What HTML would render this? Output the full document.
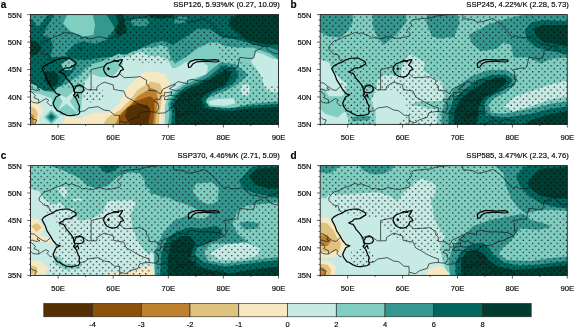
<!DOCTYPE html>
<html><head><meta charset="utf-8"><title>SSP precipitation sensitivity maps</title>
<style>
html,body{margin:0;padding:0;background:#fff}
body{width:575px;height:328px;overflow:hidden;font-family:"Liberation Sans",sans-serif}
svg{display:block}
text{font-family:"Liberation Sans",sans-serif;fill:#060606;stroke:#060606;stroke-width:.16px}
.lab{font-size:7.7px}
.ttl{font-size:7.65px}
.cbl{font-size:7.5px}
.pl{font-size:10px;font-weight:bold;fill:#000}
.brd{fill:none;stroke:#141a19;stroke-width:0.7;stroke-linejoin:round}
.lake{fill:none;stroke:#050505;stroke-width:1.25;stroke-linejoin:round;stroke-linecap:round}
.tk{stroke:#222;stroke-width:0.7}
.fr{fill:none;stroke:#222;stroke-width:0.9}
</style></head><body>
<svg width="575" height="328" viewBox="0 0 575 328">
<defs>

<clipPath id="cpa"><rect x="30.5" y="14.6" width="248" height="109.8"/></clipPath>
<clipPath id="cpb"><rect x="320.2" y="14.6" width="247.1" height="109.8"/></clipPath>
<clipPath id="cpc"><rect x="30.5" y="165.6" width="248" height="109.8"/></clipPath>
<clipPath id="cpd"><rect x="320.2" y="165.6" width="247.1" height="109.8"/></clipPath>
<pattern id="sta" x="34.35" y="16.46" width="6.15" height="6.08" patternUnits="userSpaceOnUse"><circle cx="0.7" cy="0.7" r="0.7" fill="#000"/><circle cx="3.775" cy="3.74" r="0.7" fill="#000"/></pattern>
<mask id="mka" maskUnits="userSpaceOnUse" x="0" y="0" width="575" height="328"><rect x="30.5" y="14.6" width="248" height="109.8" fill="#fff"/><polygon fill="#000" points="61.2,13.5 60,21.2 70,32.5 82.5,36.2 95,40 106.2,37.5 115,28.8 120,20 125,13.5"/><polygon fill="#000" points="30,126 30,88 45,88 55,86 63,87.5 73,87.5 82.5,87.5 88.8,77.5 92.5,65 95,61.2 107.5,62.5 118.8,58.2 125,59.5 132.5,61 145,63.8 150,62.5 162.5,63.8 170,61.2 185,58.8 192.5,53.8 200,47.5 210,45 217.5,45 220,55 221,64 215.5,71 208.8,77 196,83 185,87.5 176,95 170.5,103.8 172,112.5 171,126"/><polygon fill="#000" points="239,50 236,49 250,47.5 257.5,43.8 267.5,45 280,48.8 280,85 265,85 262,75 255,65 240,62"/><polygon fill="#000" points="203.8,98.8 235,97.5 236.2,107 206.2,108"/><polygon fill="#fff" points="80,88.8 95,87.5 105,91.2 102.5,100 90,102.5 81.2,98.8"/></mask>
<pattern id="stb" x="322.95" y="16.46" width="6.15" height="6.08" patternUnits="userSpaceOnUse"><circle cx="0.7" cy="0.7" r="0.7" fill="#000"/><circle cx="3.775" cy="3.74" r="0.7" fill="#000"/></pattern>
<mask id="mkb" maskUnits="userSpaceOnUse" x="0" y="0" width="575" height="328"><rect x="320.2" y="14.6" width="247.1" height="109.8" fill="#fff"/><polygon fill="#000" points="319,58.8 328.8,62.5 333.8,71.2 340,80 342.5,90 342,100 343.8,108.8 347.5,115 348.8,125 319,125"/><polygon fill="#000" points="374.5,93.8 380,90 392.5,90 403.8,96.2 406.2,103.8 408,115.5 396.2,125 375.5,125 375.5,112.5 372,101.2"/></mask>
<pattern id="stc" x="34.35" y="169.77" width="6.15" height="6.08" patternUnits="userSpaceOnUse"><circle cx="0.7" cy="0.7" r="0.7" fill="#000"/><circle cx="3.775" cy="3.74" r="0.7" fill="#000"/></pattern>
<mask id="mkc" maskUnits="userSpaceOnUse" x="0" y="0" width="575" height="328"><rect x="30.5" y="165.6" width="248" height="109.8" fill="#fff"/><polygon fill="#000" points="29,188.5 38.8,191 43.8,198.5 45,211 55,218.5 58,226 60,236 55,246 52.5,254.8 50,263.5 48.8,276 29,276"/><polygon fill="#000" points="150,251 156.2,252.2 157.5,276 150,276"/></mask>
<pattern id="std" x="322.80" y="169.80" width="6.15" height="6.08" patternUnits="userSpaceOnUse"><circle cx="0.7" cy="0.7" r="0.7" fill="#000"/><circle cx="3.775" cy="3.74" r="0.7" fill="#000"/></pattern>
<mask id="mkd" maskUnits="userSpaceOnUse" x="0" y="0" width="575" height="328"><rect x="320.2" y="165.6" width="247.1" height="109.8" fill="#fff"/><polygon fill="#000" points="319,197.2 325,198.5 330,194.8 335,198.5 332.5,204.8 335,211 342.5,214.8 365,216.5 381.2,218 381.2,226 392.5,236 410,243.5 430,254.8 442.5,262.2 455,266 455,276 319,276"/><polygon fill="#000" points="431,251 443.5,254.8 442.2,276 431,276"/><polygon fill="#fff" points="351.2,251 360,248.5 371.2,251 375.5,259.8 373.8,266.5 360,267.2 351.2,262.2"/></mask>
</defs>
<g clip-path="url(#cpa)">
<rect x="30.5" y="14.6" width="248" height="109.8" fill="#35978f"/>
<polygon fill="#01665e" points="30,14 54.5,14 47,27 43,35 50,38 53,45 52,52 50,57 57,57 66,56 72,60 76,66 73,72 67.5,77 64.4,81 61.2,86 57.5,89 51.2,91 43.8,89.8 37.5,86 30,82"/>
<polygon fill="#35978f" points="30,14 48.6,14 38,27.7 32.5,20 30,20"/>
<polygon fill="#01665e" points="106.2,14.5 110,20 115,28.8 106.2,40 95,43.8 82.5,41.2 73.8,45 65,53.8 70,58.8 85,60 102.5,57.5 120,56.2 137.5,50 150,43.8 165,40 165,14.5"/>
<polygon fill="#01665e" points="150,14.5 150,37 162.5,40 172.5,45 185,37.5 197.5,28.8 208.8,28.8 222.5,37.5 232.5,38.8 247.5,42.5 260,46.2 270,47.5 280,51.2 280,14.5"/>
<polygon fill="#35978f" points="173.8,19 180,16.2 187.5,17.5 185.5,22.5 175,24"/>
<polygon fill="#35978f" points="130.5,21 136,17.9 147,18.7 149.3,22.6 145.4,26.5 133.6,25.7"/>
<polygon fill="#003c30" points="30,40 37,42 41.5,48 37,54.5 30,56"/>
<polygon fill="#003c30" points="115,14 123,14 127.3,33 117,35.7 114.3,29.7 118.6,22.7"/>
<polygon fill="#003c30" points="230,18 237.5,14.5 280,14.5 280,44.5 260,44 247.5,40 235,31.2 228.8,25"/>
<polygon fill="#003c30" points="150,14.5 172.5,14.5 173.8,17.5 160,19 150,17.5"/>
<polygon fill="#003c30" points="78,47.5 82.5,47.5 80.8,50.5"/>
<polygon fill="#003c30" points="45,72.2 53.8,71 58.8,76 58,83.5 55,86.6 48.8,86 44.4,79.8"/>
<polygon fill="#35978f" points="59.5,14 57.7,22.7 66.4,33.1 82.1,40.1 96,40.1 106.4,33.1 108.2,22.7 104.7,14"/>
<polygon fill="#80cdc1" points="67.5,14 63,23.6 70.8,31.4 83.8,36.6 93.4,34.9 95.1,24.4 92.5,14"/>
<polygon fill="#80cdc1" points="61.2,63.8 70,58.8 74.5,63.8 71.2,70 63.8,70"/>
<polygon fill="#80cdc1" points="30,84 35,85 45,91 54,92.5 64,87.5 69,82.5 80,75 86,68 91,66 102.5,61 118.8,53.8 125,55 133.8,51.2 145,47.5 155,47.5 160,45 167.5,47.5 171,58.8 175,63.8 185,57.5 198.8,47.5 210,42.5 217.5,42.5 225,46.2 237.5,47.5 252.5,47.5 260,50 270,53.8 279,60 279,125 30,125"/>
<polygon fill="#c7eae5" points="30,92 40,94 50,98 56,97 64,93 76,88 88.5,78 92.5,67 100,65 110,62 120,58 130,56 140,52 150,56 160,56 168,60 172,68 176,68 186,62 200,60 208,66 207,74 195,78 185,82 170,92 165,105 165,125 30,125"/>
<polygon fill="#80cdc1" points="91,64 100,62 112,62 121,58 123,64 117,72 112,77 100,77 92,74"/>
<polygon fill="#80cdc1" points="57.5,87.5 70,82.5 80,77.5 85,82.5 82.5,92.5 81.2,108.8 73.8,116.2 60,115 52.5,106.2 51.2,96.2"/>
<polygon fill="#c7eae5" points="57.5,93.8 66.2,97.5 78.8,87.5 70,101.2 77.5,112.5 66.2,103.8 57.5,111.2 62.5,101.2"/>
<polygon fill="#80cdc1" points="43.8,117 51.2,109.5 59.5,117 51.2,124.5"/>
<polygon fill="#35978f" points="46.2,117 51.2,112 56.8,117 51.2,122.5"/>
<polygon fill="#01665e" points="48.5,117 51.2,114.2 54.2,117 51.2,120"/>
<polygon fill="#f6e8c3" points="30.5,98.8 37.5,102.5 43.8,110 40,117.5 38.8,125 30.5,125"/>
<polygon fill="#dfc27d" points="30.5,106.2 35.5,108.8 38,113.8 35.5,125 30.5,125"/>
<polygon fill="#bf812d" points="30.5,113.8 33.8,115.5 33.8,125 30.5,125"/>
<polygon fill="#f6e8c3" points="60,125 67.5,115.5 80,118.8 92.5,112.5 95,125"/>
<polygon fill="#f6e8c3" points="150.2,72.5 145,71.5 137.5,77.5 127.5,87.5 118.8,103.8 107.5,112.5 93.8,112.5 87.5,125 150.2,125"/>
<polygon fill="#f6e8c3" points="150,71.2 165,73.8 169.5,82.5 168,92.5 165,103.8 163,115 162.5,125 150,125"/>
<polygon fill="#dfc27d" points="150.2,82 137.5,90 130,100 120,110 107.5,117.5 102.5,125 150.2,125"/>
<polygon fill="#dfc27d" points="150,81.2 160,83.8 163,92.5 161.2,103.8 159.5,115 158.8,125 150,125"/>
<polygon fill="#bf812d" points="150.2,88.8 137.5,96.2 130,105 120,113.8 115,125 150.2,125"/>
<polygon fill="#bf812d" points="150,87.5 156.2,90 158,100 156.2,112.5 155,125 150,125"/>
<polygon fill="#8c510a" points="150.2,96.2 135,101.2 125,110 120,116.2 120,125 150.2,125"/>
<polygon fill="#8c510a" points="150,96.2 153.8,98.8 154.5,110 152.5,125 150,125"/>
<polygon fill="#543005" points="127.5,107.5 137.5,103.8 147.5,105 150.5,112.5 148,125 130,125 125,116.2"/>
<polygon fill="#80cdc1" points="235,65 250,60 260,55 270,70 280,72.5 280,98.8 250,101.2 236.2,97.5 232.5,85 247.5,75"/>
<polygon fill="#c7eae5" points="240.5,87.5 243.8,83.8 248.8,85 250.5,90 248,95.5 242,95"/>
<polygon fill="#c7eae5" points="251,62 256,52.5 262.5,53.8 272.5,58.8 279,59.4 279,93 268,91 264,86 262,78 258,71"/>
<polygon fill="#35978f" points="220.5,62.5 235.5,64 248.5,75 236.2,85 227.5,90 215,95 208.8,97.5 205,101.2 210,106.2 232.5,108 250,103.8 280,101.2 280,125 168,125 169.5,112.5 168,103.8 173.8,93.8 182.5,86.2 192.5,81.2 205,75 212.5,68.8"/>
<polygon fill="#01665e" points="222,65.5 234.5,67.5 238.8,75 233.8,83 225,88 212.5,93 206.2,99.5 208.8,106.2 225,108.8 250,106 280,103.8 280,125 171.2,125 172,112.5 170.5,103.8 176.2,95 185,87.5 196.2,83 208.8,77 215.5,71.2"/>
<polygon fill="#003c30" points="225,70 231.5,71.5 230,78 222.5,85.5 210,91.5 201.2,98.8 203.8,107.5 215,110 232.5,111 250,108.5 280,106.8 280,125 175,125 175,112.5 173.8,103.8 180,95 187.5,89 197.5,85.2 210,79.5 217.5,74.5"/>
<polygon fill="#80cdc1" points="205.5,101.2 213.8,97.5 235,96.5 238,103.8 226.2,107.5 209.5,106.5"/>
<polygon fill="#c7eae5" points="208,101.8 215.5,99.2 233.8,98.2 235,103.5 225,105.8 210.8,105"/>
<rect x="30.5" y="14.6" width="248" height="109.8" fill="url(#sta)" mask="url(#mka)"/>
<polyline class="brd" points="53.6,61.8 50.3,60.2 48.1,54.7 43.7,54.1 41.5,51.4 39.3,49.7 39.1,47 42.1,43.1 44.8,40.7 48.1,39.9 52,38.2 54.5,36.6 58.6,35.5 62.5,33.8 65.8,32.2 69.1,33.8 71.8,32.7 75.4,34.4 79,35.5 82.3,38.2 85.9,37.1 89.5,38.8 93.9,38.2 98.3,36.6 101.6,37.1 106,38.2 110.4,38.2 114.8,37.1 119.2,36.6 120.9,33.8 117.3,30.2 119.8,27.8 122.5,25 120.9,22.3 123.6,19.8 128.6,19 135.2,18.4 141.8,17.9 146.2,16.2 158.4,14.6 162.8,12.4"/>
<polyline class="brd" points="173.2,13 173.8,19 179.3,19 184.8,20.1 188.1,22.3 193.1,21.7 198.6,20.1 204.1,18.4 206.9,20.6 212.4,24.5 217.9,31.1 223.9,37.7 226.7,35.5 230.6,37.7 237.2,37.7 242.1,36.6 246.5,40.4 252,44.2 258.1,44.8 263.6,46.4"/>
<polyline class="brd" points="263.6,46.4 266.4,46.4 270.2,44.8 275.7,42.6 281.3,40.4"/>
<polyline class="brd" points="266.4,46.7 267.5,49.7 273,53 278.5,54.1 281.8,57.4"/>
<polyline class="brd" points="263.6,46.4 260.9,48.6 255.4,50.8 253.7,58 249.8,58.5 239.9,57.4 237.7,66.8 236.1,68.4 233.3,67.9 223.4,70 225.6,72.2 225.6,79.9 227.8,79.4 224.5,84.9"/>
<polyline class="brd" points="224.5,84.9 217.9,87.6 214.6,89.3 206.9,91.5 201.3,94.8 194.7,94.2 189.2,98 188.4,100 189.8,105.2 195.3,105.7 195.3,112"/>
<polyline class="brd" points="195.3,112 200.2,115.1 205.8,120.6 211.3,121.7 214,125.5"/>
<polyline class="brd" points="211.3,121.7 217.9,118.9 225,121.7 224.5,125.5"/>
<polyline class="brd" points="71.6,87.3 80.1,84.3 87.8,89.8 91.1,89.8 91.1,69.5 105.5,66.2"/>
<polyline class="brd" points="119.2,73.3 124.2,77.7 135.2,77.2 140.2,76.6 146.8,80.5 146.2,83.8 149,86 149,90.4 156.7,90.9 157.8,92.6 160.6,93.7 162.8,89.3 171,85.4 173.5,84.6"/>
<polyline class="brd" points="91.1,89.8 96.6,89.8 97.2,86.5 102.1,83.2 104.9,82.1 107.7,83.2 113.2,84.9 113.7,89.3 118.7,90.4 123.6,90.9 126.4,97 132.5,100.2 136.3,102.7 144,106.3 149,107.9 149.3,111.5"/>
<polyline class="brd" points="79.5,111.5 84.5,110.9 88.4,107.9 92.8,107.4 97.7,106.6 104.3,110.1 109.3,110.7 114.8,115.3 119.5,115.3 119.8,121.1 119.2,125.5"/>
<polyline class="brd" points="119.8,121.1 125.8,122.8 130.3,119.7 138,117.3 139.6,112.9 144,111.8 149.3,111.5 156.2,112.3 157.3,113.4 164.4,112.9 169.4,110.1 169.9,107.9 175.4,106.3 176,108.5 177.1,115.1 183.2,113.4 189.2,111.2 195.3,112"/>
<polyline class="brd" points="193.6,113.4 184.8,114.5 177.1,116.7 174.9,118.9 177.1,123.3 176,125.5"/>
<polyline class="brd" points="189.8,125.5 192,123.9 200.2,122.8 205.8,120.6"/>
<polyline class="brd" points="156.2,112.3 158.9,107.9 157.8,103 153.9,101.3 155.6,99.1 160,99.4 160.8,95.9 164.4,95.9 164.4,92.6 168.3,92.6 171.9,91.7 171,95.3"/>
<polyline class="brd" points="171,95.3 165.5,96.4 164.4,98 164.4,99.7 171,99.1 178.2,100.8 188.4,100"/>
<polyline class="brd" points="173.5,84.6 175.4,84.9 169.4,88.7 176,90.9 178.7,89.8 180.4,91.5 185.4,92.6 181.5,94.8 177.6,96.1 173.8,95.9 171,95.3"/>
<polyline class="brd" points="173.5,84.6 178.2,81.6 187.6,83.8 187.6,80.5 192,79.4 200.2,81 206.9,80.8 219,81.6 224.5,84.9"/>
<polyline class="brd" points="27.7,82.1 34.4,83.2 38.2,86.5 43.2,89.8 46.5,90.4 50.3,86.8"/>
<polyline class="brd" points="38.2,86.5 37.1,88.2 39.9,89.8 36,90.4 32.2,89 29.4,90.1"/>
<polyline class="brd" points="29.4,90.4 33.3,93.1 35.5,95.9 33.8,97.5 38.8,99.7 38.8,103 41.5,101.3 45.9,98.6 48.7,100.2 47,102.4 50.3,105.7 52,105.5"/>
<polyline class="brd" points="38.8,103 36,103 32.7,102.4 29.4,98.6"/>
<polyline class="brd" points="29.4,112.3 30.5,116.7 32.7,118.9 36.6,120 35.5,122.8 33.8,125.5"/>
<polyline class="lake" points="76.2,64 72.9,65.9 70.2,67.6 67.1,67.9 64.7,68.1 63,70 59.2,71.9 61.2,72.8 63.6,73.3 65.2,75.8 66.3,78.3 68,79.9 71.3,83.8 73.2,86.8 74,90.9 75.1,93.7 73.5,95.3 76.2,98.6 78.2,103.5 79.5,106.3 79,109.6 79.8,112.3 78.2,114.5 71.3,115.6 66.9,115.3 63,113.6 59.7,111.5 57.2,110.7 54.2,106.6 53.1,103.5 54.2,100.8 55,99.1 56.2,96.7 60.3,94.8 56.4,93.7 54.7,91.5 53.1,89.8 50.3,84.9 47,79.9 45.4,75 43.2,70.9 42.1,68.4 44.3,65.9 48.7,63.5 52.5,62.1 55.3,60.2 60.3,58.5 65.2,58 69.1,58.2 72.9,60.2 75.7,61.8 76.2,64"/>
<polyline class="lake" points="75.7,96.4 77.6,94.5 78.7,97.5"/>
<polyline class="lake" points="74.3,89.8 76.2,86.2 80.1,85.4 82.9,86.5 84,89.8 82.3,92 78.4,92.8 74.6,92 74.3,89.8"/>
<polyline class="lake" points="104.3,66.2 106.8,63.7 110.4,62.5 114.3,60.5 116.9,61.3 119.2,60 122.5,59.6 121.2,62.4 119.2,65.1 122,67 123.6,69.5 120.7,70.6 119.2,73.9 116.9,76.3 113.2,77.2 109.3,76.3 106.8,75 104.9,72.5 103.6,69.5 104.3,66.2"/>
<polyline class="lake" points="107.7,68.7 108.4,67.9 109.2,68.7 108.4,69.5 107.7,68.7"/>
<polyline class="lake" points="112.6,61.8 115.4,60.6 118.5,61.3"/>
<polyline class="lake" points="188.1,63.7 190.7,61.3 195.7,59.6 201.9,59.6 208.2,60.2 214.6,59.6 218.3,60 219,61.5 215.7,62 209.6,61.5 203,61.3 196.9,61.8 193.1,63.7 190.7,67 188.7,67.5 188.1,63.7"/>
</g>
<rect class="fr" x="30.5" y="14.6" width="248" height="109.8"/>
<path class="tk" d="M30.5 124.4h-3.2M30.5 118.9h-1.6M30.5 113.4h-1.6M30.5 107.9h-1.6M30.5 102.4h-1.6M30.5 97h-3.2M30.5 91.5h-1.6M30.5 86h-1.6M30.5 80.5h-1.6M30.5 75h-1.6M30.5 69.5h-3.2M30.5 64h-1.6M30.5 58.5h-1.6M30.5 53h-1.6M30.5 47.5h-1.6M30.5 42.1h-3.2M30.5 36.6h-1.6M30.5 31.1h-1.6M30.5 25.6h-1.6M30.5 20.1h-1.6M30.5 14.6h-3.2M30.5 124.4v1.6M58.1 124.4v3.2M85.6 124.4v1.6M113.2 124.4v3.2M140.7 124.4v1.6M168.3 124.4v3.2M195.8 124.4v1.6M223.4 124.4v3.2M250.9 124.4v1.6M278.5 124.4v3.2"/>
<text class="lab" text-anchor="end" x="21.9" y="127.3">35N</text>
<text class="lab" text-anchor="end" x="21.9" y="99.9">40N</text>
<text class="lab" text-anchor="end" x="21.9" y="72.4">45N</text>
<text class="lab" text-anchor="end" x="21.9" y="45">50N</text>
<text class="lab" text-anchor="end" x="21.9" y="17.5">55N</text>
<text class="lab" text-anchor="middle" x="58.1" y="139.5">50E</text>
<text class="lab" text-anchor="middle" x="113.2" y="139.5">60E</text>
<text class="lab" text-anchor="middle" x="168.3" y="139.5">70E</text>
<text class="lab" text-anchor="middle" x="223.4" y="139.5">80E</text>
<text class="lab" text-anchor="middle" x="278.5" y="139.5">90E</text>
<text class="ttl" text-anchor="end" x="279.9" y="7.3">SSP126, 5.93%/K (0.27, 10.09)</text>
<text class="pl" x="0.7" y="8.3">a</text>
<g clip-path="url(#cpb)">
<rect x="320.2" y="14.6" width="247.1" height="109.8" fill="#80cdc1"/>
<polygon fill="#35978f" points="319,13.5 352.5,13.5 353,21.2 347.5,31.2 340,37.5 327.5,36.2 319,31.2"/>
<polygon fill="#35978f" points="372.5,13.5 406.2,13.5 406.2,22.5 396.2,35 383.8,45 376.2,35 372.5,25"/>
<polygon fill="#35978f" points="427.5,13.5 455,13.5 455,37.5 437.5,37.5 430,31.2 426.2,22.5"/>
<polygon fill="#35978f" points="431,13.5 457.2,13.5 459.8,22.5 454.8,35 441,38.8 431,36.2"/>
<polygon fill="#35978f" points="468.5,35 489.8,23.8 506,18.8 528.5,13.5 568.5,13.5 568.5,57.5 551,58.8 541,63.8 528.5,57.5 513.5,57.5 511,45 503.5,42.5 497.2,48.8 481,51.2 472.2,43.8"/>
<polygon fill="#01665e" points="524.8,30 531,22.5 543.5,20 568.5,21.2 568.5,53.8 551,51.2 536,47.5 527.2,40"/>
<polygon fill="#003c30" points="533.5,28.8 542.2,25 568.5,25 568.5,47.5 556,43.8 543.5,42.5 536,36.2"/>
<polygon fill="#c7eae5" points="319,58.8 328.8,62.5 333.8,71.2 341.2,80 347.5,83.8 343.8,93.8 342.5,107.5 346.2,113.8 350,125 319,125"/>
<polygon fill="#80cdc1" points="319,87.5 325,90 328.8,96.2 343.8,96.2 345,111.2 337.5,117.5 325,113.8 319,107.5"/>
<polygon fill="#c7eae5" points="407.5,56.2 411.2,54.2 425,62.5 423,70.5 432.5,77 442,82.5 444,96.2 440,103.8 437.5,111.2 437,125 375.5,125 375.5,112.5 371.2,100 375,91.2 377.5,81.2 382.5,75.5 400.5,75 402.5,66.2"/>
<polygon fill="#80cdc1" points="408.8,105 420,101.2 444,100.8 441.2,110 430,108.8 420,106.2"/>
<polygon fill="#80cdc1" points="347.5,125 348.8,115.5 372.5,114.5 375.5,125"/>
<polygon fill="#35978f" points="351.2,117 368.8,116 370,120 352.5,121.2"/>
<polygon fill="#35978f" points="441,125 442.2,110 446,100 456,87.5 471,76.2 488.5,70 506,70 517.2,76.2 514.8,85 506,92.5 493.5,98.8 488.5,105 491,112.5 503.5,113.8 531,108.8 551,103.8 568.5,101.2 568.5,125"/>
<polygon fill="#c7eae5" points="503.5,106.2 516,96.2 531,91.2 548.5,85 568.5,80 568.5,96.2 548.5,100 531,106.2 513.5,111.2"/>
<polygon fill="#01665e" points="448.5,125 448.5,112.5 453.5,100 463.5,90 476,81.2 491,75 504.8,74.5 512.2,78.8 508.5,86.2 498.5,92.5 487.2,98.8 483.5,106.2 486,115.5 506,117.5 531,113.8 551,108.8 568.5,106.2 568.5,125"/>
<polygon fill="#003c30" points="453.5,125 454.8,110 461,98.8 472.2,90 483.5,82.5 496,77.5 506,78 506,83.8 497.2,90 484.8,97.5 478.5,106.2 478.5,115.5 476.5,125"/>
<polygon fill="#003c30" points="523.5,125 531,120 551,114 568.5,111 568.5,125"/>
<rect x="320.2" y="14.6" width="247.1" height="109.8" fill="url(#stb)" mask="url(#mkb)"/>
<polyline class="brd" points="343.3,61.8 340,60.2 337.8,54.7 333.4,54.1 331.2,51.4 329,49.7 328.8,47 331.7,43.1 334.5,40.7 337.8,39.9 341.6,38.2 344.1,36.6 348.2,35.5 352,33.8 355.3,32.2 358.6,33.8 361.4,32.7 365,34.4 368.5,35.5 371.8,38.2 375.4,37.1 379,38.8 383.3,38.2 387.7,36.6 391,37.1 395.4,38.2 399.8,38.2 404.2,37.1 408.6,36.6 410.3,33.8 406.7,30.2 409.2,27.8 411.9,25 410.3,22.3 413,19.8 417.9,19 424.5,18.4 431.1,17.9 435.5,16.2 447.6,14.6 452,12.4"/>
<polyline class="brd" points="462.4,13 463,19 468.5,19 474,20.1 477.2,22.3 482.2,21.7 487.7,20.1 493.2,18.4 495.9,20.6 501.4,24.5 506.9,31.1 512.9,37.7 515.7,35.5 519.5,37.7 526.1,37.7 531.1,36.6 535.5,40.4 540.9,44.2 547,44.8 552.5,46.4"/>
<polyline class="brd" points="552.5,46.4 555.2,46.4 559.1,44.8 564.6,42.6 570,40.4"/>
<polyline class="brd" points="555.2,46.7 556.3,49.7 561.8,53 567.3,54.1 570.6,57.4"/>
<polyline class="brd" points="552.5,46.4 549.7,48.6 544.2,50.8 542.6,58 538.7,58.5 528.9,57.4 526.7,66.8 525,68.4 522.3,67.9 512.4,70 514.6,72.2 514.6,79.9 516.8,79.4 513.5,84.9"/>
<polyline class="brd" points="513.5,84.9 506.9,87.6 503.6,89.3 495.9,91.5 490.4,94.8 483.8,94.2 478.3,98 477.5,100 478.9,105.2 484.4,105.7 484.4,112"/>
<polyline class="brd" points="484.4,112 489.3,115.1 494.8,120.6 500.3,121.7 503.1,125.5"/>
<polyline class="brd" points="500.3,121.7 506.9,118.9 514,121.7 513.5,125.5"/>
<polyline class="brd" points="361.1,87.3 369.6,84.3 377.3,89.8 380.6,89.8 380.6,69.5 394.9,66.2"/>
<polyline class="brd" points="408.6,73.3 413.5,77.7 424.5,77.2 429.5,76.6 436.1,80.5 435.5,83.8 438.3,86 438.3,90.4 445.9,90.9 447,92.6 449.8,93.7 452,89.3 460.2,85.4 462.7,84.6"/>
<polyline class="brd" points="380.6,89.8 386.1,89.8 386.6,86.5 391.6,83.2 394.3,82.1 397.1,83.2 402.6,84.9 403.1,89.3 408.1,90.4 413,90.9 415.7,97 421.8,100.2 425.6,102.7 433.3,106.3 438.3,107.9 438.5,111.5"/>
<polyline class="brd" points="369.1,111.5 374,110.9 377.9,107.9 382.2,107.4 387.2,106.6 393.8,110.1 398.7,110.7 404.2,115.3 408.9,115.3 409.2,121.1 408.6,125.5"/>
<polyline class="brd" points="409.2,121.1 415.2,122.8 419.6,119.7 427.3,117.3 428.9,112.9 433.3,111.8 438.5,111.5 445.4,112.3 446.5,113.4 453.6,112.9 458.6,110.1 459.1,107.9 464.6,106.3 465.2,108.5 466.3,115.1 472.3,113.4 478.3,111.2 484.4,112"/>
<polyline class="brd" points="482.7,113.4 474,114.5 466.3,116.7 464.1,118.9 466.3,123.3 465.2,125.5"/>
<polyline class="brd" points="478.9,125.5 481.1,123.9 489.3,122.8 494.8,120.6"/>
<polyline class="brd" points="445.4,112.3 448.1,107.9 447,103 443.2,101.3 444.8,99.1 449.2,99.4 450.1,95.9 453.6,95.9 453.6,92.6 457.5,92.6 461,91.7 460.2,95.3"/>
<polyline class="brd" points="460.2,95.3 454.7,96.4 453.6,98 453.6,99.7 460.2,99.1 467.4,100.8 477.5,100"/>
<polyline class="brd" points="462.7,84.6 464.6,84.9 458.6,88.7 465.2,90.9 467.9,89.8 469.6,91.5 474.5,92.6 470.7,94.8 466.8,96.1 463,95.9 460.2,95.3"/>
<polyline class="brd" points="462.7,84.6 467.4,81.6 476.7,83.8 476.7,80.5 481.1,79.4 489.3,81 495.9,80.8 508,81.6 513.5,84.9"/>
<polyline class="brd" points="317.5,82.1 324,83.2 327.9,86.5 332.8,89.8 336.1,90.4 340,86.8"/>
<polyline class="brd" points="327.9,86.5 326.8,88.2 329.5,89.8 325.7,90.4 321.8,89 319.1,90.1"/>
<polyline class="brd" points="319.1,90.4 322.9,93.1 325.1,95.9 323.5,97.5 328.4,99.7 328.4,103 331.2,101.3 335.6,98.6 338.3,100.2 336.7,102.4 340,105.7 341.6,105.5"/>
<polyline class="brd" points="328.4,103 325.7,103 322.4,102.4 319.1,98.6"/>
<polyline class="brd" points="319.1,112.3 320.2,116.7 322.4,118.9 326.2,120 325.1,122.8 323.5,125.5"/>
<polyline class="lake" points="365.8,64 362.5,65.9 359.7,67.6 356.7,67.9 354.2,68.1 352.6,70 348.8,71.9 350.8,72.8 353.1,73.3 354.8,75.8 355.9,78.3 357.5,79.9 360.8,83.8 362.8,86.8 363.6,90.9 364.7,93.7 363,95.3 365.8,98.6 367.7,103.5 369.1,106.3 368.5,109.6 369.3,112.3 367.7,114.5 360.8,115.6 356.4,115.3 352.6,113.6 349.3,111.5 346.8,110.7 343.8,106.6 342.7,103.5 343.8,100.8 344.6,99.1 345.8,96.7 349.9,94.8 346,93.7 344.4,91.5 342.7,89.8 340,84.9 336.7,79.9 335,75 332.8,70.9 331.7,68.4 333.9,65.9 338.3,63.5 342.2,62.1 344.9,60.2 349.9,58.5 354.8,58 358.6,58.2 362.5,60.2 365.2,61.8 365.8,64"/>
<polyline class="lake" points="365.2,96.4 367.1,94.5 368.2,97.5"/>
<polyline class="lake" points="363.9,89.8 365.8,86.2 369.6,85.4 372.4,86.5 373.5,89.8 371.8,92 368,92.8 364.1,92 363.9,89.8"/>
<polyline class="lake" points="393.8,66.2 396.3,63.7 399.8,62.5 403.7,60.5 406.2,61.3 408.6,60 411.9,59.6 410.5,62.4 408.6,65.1 411.4,67 413,69.5 410,70.6 408.6,73.9 406.2,76.3 402.6,77.2 398.7,76.3 396.3,75 394.3,72.5 393,69.5 393.8,66.2"/>
<polyline class="lake" points="397.1,68.7 397.8,67.9 398.6,68.7 397.8,69.5 397.1,68.7"/>
<polyline class="lake" points="402,61.8 404.8,60.6 407.9,61.3"/>
<polyline class="lake" points="477.2,63.7 479.8,61.3 484.8,59.6 491,59.6 497.3,60.2 503.6,59.6 507.3,60 508,61.5 504.7,62 498.7,61.5 492.1,61.3 486,61.8 482.2,63.7 479.8,67 477.8,67.5 477.2,63.7"/>
</g>
<rect class="fr" x="320.2" y="14.6" width="247.1" height="109.8"/>
<path class="tk" d="M320.2 124.4h-3.2M320.2 118.9h-1.6M320.2 113.4h-1.6M320.2 107.9h-1.6M320.2 102.4h-1.6M320.2 97h-3.2M320.2 91.5h-1.6M320.2 86h-1.6M320.2 80.5h-1.6M320.2 75h-1.6M320.2 69.5h-3.2M320.2 64h-1.6M320.2 58.5h-1.6M320.2 53h-1.6M320.2 47.5h-1.6M320.2 42.1h-3.2M320.2 36.6h-1.6M320.2 31.1h-1.6M320.2 25.6h-1.6M320.2 20.1h-1.6M320.2 14.6h-3.2M320.2 124.4v1.6M347.7 124.4v3.2M375.1 124.4v1.6M402.6 124.4v3.2M430 124.4v1.6M457.5 124.4v3.2M484.9 124.4v1.6M512.4 124.4v3.2M539.8 124.4v1.6M567.3 124.4v3.2"/>
<text class="lab" text-anchor="end" x="311.6" y="127.3">35N</text>
<text class="lab" text-anchor="end" x="311.6" y="99.9">40N</text>
<text class="lab" text-anchor="end" x="311.6" y="72.4">45N</text>
<text class="lab" text-anchor="end" x="311.6" y="45">50N</text>
<text class="lab" text-anchor="end" x="311.6" y="17.5">55N</text>
<text class="lab" text-anchor="middle" x="347.7" y="139.5">50E</text>
<text class="lab" text-anchor="middle" x="402.6" y="139.5">60E</text>
<text class="lab" text-anchor="middle" x="457.5" y="139.5">70E</text>
<text class="lab" text-anchor="middle" x="512.4" y="139.5">80E</text>
<text class="lab" text-anchor="middle" x="567.3" y="139.5">90E</text>
<text class="ttl" text-anchor="end" x="568.7" y="7.3">SSP245, 4.22%/K (2.28, 5.73)</text>
<text class="pl" x="290.4" y="8.3">b</text>
<g clip-path="url(#cpc)">
<rect x="30.5" y="165.6" width="248" height="109.8" fill="#80cdc1"/>
<polygon fill="#35978f" points="46.2,164.5 65,171 80,178.5 87.5,186 97.5,188.5 107.5,186 118.8,176 130,172.2 140,173.5 144.5,179.8 145,186 155,193.5 165,198.5 165,164.5"/>
<polygon fill="#35978f" points="150,164.5 150,193.5 165,196 175,201 187.5,204.8 197.5,209.8 210,214.8 200,221 180,226 165,236 155,243.5 250,243.5 237.5,233.5 232.5,223.5 237.5,211 245,206 255,204.8 267.5,203.5 280,202.2 280,164.5"/>
<polygon fill="#80cdc1" points="196.2,183.5 212.5,182.2 218.8,188.5 217.5,201 210,204.8 200,201 192.5,191"/>
<polygon fill="#01665e" points="100,164.5 120,164.5 116.2,169.8 107.5,173.5 101.2,169.8"/>
<polygon fill="#01665e" points="238.8,181 250,168.5 260,164.5 280,164.5 280,198.5 267.5,196 255,193.5 245,189.8"/>
<polygon fill="#003c30" points="248.8,176 257.5,168.5 280,167.2 280,188.5 267.5,188.5 255,184.8"/>
<polygon fill="#c7eae5" points="29,188.5 38.8,191 43.8,198.5 52.5,204.8 60,202.2 66.2,208.5 73.8,208.5 73.8,213.5 80,221 92.5,218.5 102.5,212.2 107.5,201 132.5,199.8 136.2,203.5 130,214.8 132.5,226 137.5,241 145,251 155,261 160,276 29,276"/>
<polygon fill="#c7eae5" points="72.5,199 82.5,198.5 81.2,201 73.8,201"/>
<polygon fill="#c7eae5" points="56.8,187.5 66.2,186.8 67.5,195 63.8,198"/>
<polygon fill="#80cdc1" points="53.8,254.8 60,257.2 63.8,263.5 81.2,264.8 80,268.5 65,269.8 55,263.5"/>
<polygon fill="#f6e8c3" points="29,218 38,219 44.2,228 39.5,235.5 29,236.5"/>
<polygon fill="#dfc27d" points="31.2,226 37,223 42,227.5 36.5,232"/>
<polygon fill="#f6e8c3" points="29,235.5 38.8,234.5 49.5,238 52,243 41.2,241.8 29,240.5"/>
<polygon fill="#f6e8c3" points="29,259.8 40,261 47.5,267.2 45,276 29,276"/>
<polygon fill="#dfc27d" points="29,264.8 37.5,267.2 35,274 29,274"/>
<polygon fill="#f6e8c3" points="105,276 110,272.2 125,273.5 140,268.5 150,266.5 156.2,276"/>
<polygon fill="#35978f" points="152.5,276 155,251 162.5,233.5 175,219.8 187.5,216 200,218.5 217.5,218.5 225,223.5 226.2,231 220,238.5 210,244.8 203.8,252.2 208.8,261 225,263.5 250,260.5 280,256.5 280,276"/>
<polygon fill="#35978f" points="238.8,223.5 247.5,221 260,223.5 257.5,228.5 245,229.8"/>
<polygon fill="#c7eae5" points="210,253.5 225,244.8 245,242.2 260,248.5 257.5,256 237.5,259.8 220,259.8"/>
<polygon fill="#01665e" points="160,276 161.2,253.5 167.5,238.5 177.5,231 190,227.2 200,228.5 216.2,226 222.5,229.8 221.2,236 210,242.2 197.5,247.2 195,254.8 203.8,262.2 225,266.5 250,263.5 280,259.8 280,276"/>
<polygon fill="#003c30" points="167.5,276 168,256 171.2,243.5 180,236 190,236 195,242.2 192.5,251 190,258.5 197.5,266.5 212.5,270.5 230,273.5 250,269.8 280,266.5 280,276"/>
<polygon fill="#c7eae5" points="150,252.2 153.5,253.5 154.5,266.5 155,276 150,276"/>
<polygon fill="#f6e8c3" points="150,266.5 153,268 153.8,276 150,276"/>
<rect x="30.5" y="165.6" width="248" height="109.8" fill="url(#stc)" mask="url(#mkc)"/>
<polyline class="brd" points="53.6,212.8 50.3,211.2 48.1,205.7 43.7,205.1 41.5,202.4 39.3,200.7 39.1,198 42.1,194.1 44.8,191.7 48.1,190.9 52,189.2 54.5,187.6 58.6,186.5 62.5,184.8 65.8,183.2 69.1,184.8 71.8,183.7 75.4,185.4 79,186.5 82.3,189.2 85.9,188.1 89.5,189.8 93.9,189.2 98.3,187.6 101.6,188.1 106,189.2 110.4,189.2 114.8,188.1 119.2,187.6 120.9,184.8 117.3,181.2 119.8,178.8 122.5,176 120.9,173.3 123.6,170.8 128.6,170 135.2,169.4 141.8,168.9 146.2,167.2 158.4,165.6 162.8,163.4"/>
<polyline class="brd" points="173.2,164 173.8,170 179.3,170 184.8,171.1 188.1,173.3 193.1,172.7 198.6,171.1 204.1,169.4 206.9,171.6 212.4,175.5 217.9,182.1 223.9,188.7 226.7,186.5 230.6,188.7 237.2,188.7 242.1,187.6 246.5,191.4 252,195.2 258.1,195.8 263.6,197.4"/>
<polyline class="brd" points="263.6,197.4 266.4,197.4 270.2,195.8 275.7,193.6 281.3,191.4"/>
<polyline class="brd" points="266.4,197.7 267.5,200.7 273,204 278.5,205.1 281.8,208.4"/>
<polyline class="brd" points="263.6,197.4 260.9,199.6 255.4,201.8 253.7,209 249.8,209.5 239.9,208.4 237.7,217.8 236.1,219.4 233.3,218.9 223.4,221 225.6,223.2 225.6,230.9 227.8,230.4 224.5,235.9"/>
<polyline class="brd" points="224.5,235.9 217.9,238.6 214.6,240.3 206.9,242.5 201.3,245.8 194.7,245.2 189.2,249 188.4,251 189.8,256.2 195.3,256.7 195.3,263"/>
<polyline class="brd" points="195.3,263 200.2,266.1 205.8,271.6 211.3,272.7 214,276.5"/>
<polyline class="brd" points="211.3,272.7 217.9,269.9 225,272.7 224.5,276.5"/>
<polyline class="brd" points="71.6,238.3 80.1,235.3 87.8,240.8 91.1,240.8 91.1,220.5 105.5,217.2"/>
<polyline class="brd" points="119.2,224.3 124.2,228.7 135.2,228.2 140.2,227.6 146.8,231.5 146.2,234.8 149,237 149,241.4 156.7,241.9 157.8,243.6 160.6,244.7 162.8,240.3 171,236.4 173.5,235.6"/>
<polyline class="brd" points="91.1,240.8 96.6,240.8 97.2,237.5 102.1,234.2 104.9,233.1 107.7,234.2 113.2,235.9 113.7,240.3 118.7,241.4 123.6,241.9 126.4,247.9 132.5,251.2 136.3,253.7 144,257.3 149,258.9 149.3,262.5"/>
<polyline class="brd" points="79.5,262.5 84.5,261.9 88.4,258.9 92.8,258.4 97.7,257.6 104.3,261.1 109.3,261.7 114.8,266.3 119.5,266.3 119.8,272.1 119.2,276.5"/>
<polyline class="brd" points="119.8,272.1 125.8,273.8 130.3,270.7 138,268.3 139.6,263.9 144,262.8 149.3,262.5 156.2,263.3 157.3,264.4 164.4,263.9 169.4,261.1 169.9,258.9 175.4,257.3 176,259.5 177.1,266.1 183.2,264.4 189.2,262.2 195.3,263"/>
<polyline class="brd" points="193.6,264.4 184.8,265.5 177.1,267.7 174.9,269.9 177.1,274.3 176,276.5"/>
<polyline class="brd" points="189.8,276.5 192,274.9 200.2,273.8 205.8,271.6"/>
<polyline class="brd" points="156.2,263.3 158.9,258.9 157.8,254 153.9,252.3 155.6,250.1 160,250.4 160.8,246.9 164.4,246.9 164.4,243.6 168.3,243.6 171.9,242.7 171,246.3"/>
<polyline class="brd" points="171,246.3 165.5,247.4 164.4,249 164.4,250.7 171,250.1 178.2,251.8 188.4,251"/>
<polyline class="brd" points="173.5,235.6 175.4,235.9 169.4,239.7 176,241.9 178.7,240.8 180.4,242.5 185.4,243.6 181.5,245.8 177.6,247.1 173.8,246.9 171,246.3"/>
<polyline class="brd" points="173.5,235.6 178.2,232.6 187.6,234.8 187.6,231.5 192,230.4 200.2,232 206.9,231.8 219,232.6 224.5,235.9"/>
<polyline class="brd" points="27.7,233.1 34.4,234.2 38.2,237.5 43.2,240.8 46.5,241.4 50.3,237.8"/>
<polyline class="brd" points="38.2,237.5 37.1,239.2 39.9,240.8 36,241.4 32.2,240 29.4,241.1"/>
<polyline class="brd" points="29.4,241.4 33.3,244.1 35.5,246.9 33.8,248.5 38.8,250.7 38.8,254 41.5,252.3 45.9,249.6 48.7,251.2 47,253.4 50.3,256.7 52,256.5"/>
<polyline class="brd" points="38.8,254 36,254 32.7,253.4 29.4,249.6"/>
<polyline class="brd" points="29.4,263.3 30.5,267.7 32.7,269.9 36.6,271 35.5,273.8 33.8,276.5"/>
<polyline class="lake" points="76.2,215 72.9,216.9 70.2,218.6 67.1,218.9 64.7,219.1 63,221 59.2,222.9 61.2,223.8 63.6,224.3 65.2,226.8 66.3,229.3 68,230.9 71.3,234.8 73.2,237.8 74,241.9 75.1,244.7 73.5,246.3 76.2,249.6 78.2,254.5 79.5,257.3 79,260.6 79.8,263.3 78.2,265.5 71.3,266.6 66.9,266.3 63,264.6 59.7,262.5 57.2,261.7 54.2,257.6 53.1,254.5 54.2,251.8 55,250.1 56.2,247.7 60.3,245.8 56.4,244.7 54.7,242.5 53.1,240.8 50.3,235.9 47,230.9 45.4,226 43.2,221.9 42.1,219.4 44.3,216.9 48.7,214.5 52.5,213.1 55.3,211.2 60.3,209.5 65.2,209 69.1,209.2 72.9,211.2 75.7,212.8 76.2,215"/>
<polyline class="lake" points="75.7,247.4 77.6,245.5 78.7,248.5"/>
<polyline class="lake" points="74.3,240.8 76.2,237.2 80.1,236.4 82.9,237.5 84,240.8 82.3,243 78.4,243.8 74.6,243 74.3,240.8"/>
<polyline class="lake" points="104.3,217.2 106.8,214.7 110.4,213.5 114.3,211.5 116.9,212.3 119.2,211 122.5,210.6 121.2,213.4 119.2,216.1 122,218 123.6,220.5 120.7,221.6 119.2,224.9 116.9,227.3 113.2,228.2 109.3,227.3 106.8,226 104.9,223.5 103.6,220.5 104.3,217.2"/>
<polyline class="lake" points="107.7,219.7 108.4,218.9 109.2,219.7 108.4,220.5 107.7,219.7"/>
<polyline class="lake" points="112.6,212.8 115.4,211.6 118.5,212.3"/>
<polyline class="lake" points="188.1,214.7 190.7,212.3 195.7,210.6 201.9,210.6 208.2,211.2 214.6,210.6 218.3,211 219,212.5 215.7,213 209.6,212.5 203,212.3 196.9,212.8 193.1,214.7 190.7,218 188.7,218.5 188.1,214.7"/>
</g>
<rect class="fr" x="30.5" y="165.6" width="248" height="109.8"/>
<path class="tk" d="M30.5 275.4h-3.2M30.5 269.9h-1.6M30.5 264.4h-1.6M30.5 258.9h-1.6M30.5 253.4h-1.6M30.5 247.9h-3.2M30.5 242.5h-1.6M30.5 237h-1.6M30.5 231.5h-1.6M30.5 226h-1.6M30.5 220.5h-3.2M30.5 215h-1.6M30.5 209.5h-1.6M30.5 204h-1.6M30.5 198.5h-1.6M30.5 193h-3.2M30.5 187.6h-1.6M30.5 182.1h-1.6M30.5 176.6h-1.6M30.5 171.1h-1.6M30.5 165.6h-3.2M30.5 275.4v1.6M58.1 275.4v3.2M85.6 275.4v1.6M113.2 275.4v3.2M140.7 275.4v1.6M168.3 275.4v3.2M195.8 275.4v1.6M223.4 275.4v3.2M250.9 275.4v1.6M278.5 275.4v3.2"/>
<text class="lab" text-anchor="end" x="21.9" y="278.3">35N</text>
<text class="lab" text-anchor="end" x="21.9" y="250.8">40N</text>
<text class="lab" text-anchor="end" x="21.9" y="223.4">45N</text>
<text class="lab" text-anchor="end" x="21.9" y="195.9">50N</text>
<text class="lab" text-anchor="end" x="21.9" y="168.5">55N</text>
<text class="lab" text-anchor="middle" x="58.1" y="290.5">50E</text>
<text class="lab" text-anchor="middle" x="113.2" y="290.5">60E</text>
<text class="lab" text-anchor="middle" x="168.3" y="290.5">70E</text>
<text class="lab" text-anchor="middle" x="223.4" y="290.5">80E</text>
<text class="lab" text-anchor="middle" x="278.5" y="290.5">90E</text>
<text class="ttl" text-anchor="end" x="279.9" y="158.3">SSP370, 4.46%/K (2.71, 5.09)</text>
<text class="pl" x="0.7" y="159.3">c</text>
<g clip-path="url(#cpd)">
<rect x="320.2" y="165.6" width="247.1" height="109.8" fill="#80cdc1"/>
<polygon fill="#35978f" points="319,164.5 319,172.2 330,173.5 335,169.8 342.5,164.5"/>
<polygon fill="#35978f" points="357.5,164.5 363.8,171 375,174.8 385,173.5 392.5,168.5 395,164.5"/>
<polygon fill="#c7eae5" points="319,197.2 325,198.5 330,193.5 337.5,194.8 360,193.5 377.5,192.2 390,196 397.5,201 405,191 415,182.2 422.5,178.5 435,184.8 430,196 432.5,207.2 433.8,216 437.5,226 445,236 440,248.5 442.5,261 446.2,271 455,276.5 319,276.5"/>
<polygon fill="#c7eae5" points="431,181 436,186 434.8,196 431,198.5"/>
<polygon fill="#f6e8c3" points="319,217.2 328.8,218.5 336.2,226 341.2,236 346.2,242.2 345,251 335,257.2 319,258.5"/>
<polygon fill="#dfc27d" points="319,222.2 327.5,223.5 333.8,231 337.5,238.5 341.2,243.5 340,249.8 332.5,252.2 319,252.2"/>
<polygon fill="#bf812d" points="319,236 327.5,234.8 331.2,241 327.5,246 319,246"/>
<polygon fill="#f6e8c3" points="319,259.8 330,261 336.2,267.2 335,276 319,276"/>
<polygon fill="#dfc27d" points="319,263.5 327.5,264.8 331.2,269.8 330,276 319,276"/>
<polygon fill="#bf812d" points="319,266.5 325,268.5 325.5,276 319,276"/>
<polygon fill="#f6e8c3" points="425,276 430,268.5 438.8,265.5 446.2,269.8 450,276"/>
<polygon fill="#35978f" points="493.5,164.5 503.5,173.5 506,186 511,198.5 518.5,208.5 526,213.5 536,211 548.5,209.8 568.5,211 568.5,164.5"/>
<polygon fill="#01665e" points="516,176 523.5,167.2 531,164.5 568.5,164.5 568.5,208.5 556,207.2 541,203.5 528.5,196 519.8,186"/>
<polygon fill="#003c30" points="527.2,183.5 533.5,174.8 541,168.5 568.5,167.2 568.5,198.5 556,198.5 543.5,196 533.5,191"/>
<polygon fill="#35978f" points="450,276 448.5,261 452.2,248.5 459.8,238 473.5,226 491,219.8 511,216 523.5,213.5 531,219.8 548.5,224.8 551,227.2 538.5,229.8 521,228.5 516,233.5 511,241 503.5,247.2 498.5,253.5 506,259.8 531,261 551,258 568.5,256.5 568.5,276"/>
<polygon fill="#01665e" points="455.5,276 455.5,262.2 460.5,252.2 469,246 481,242.2 488.5,247.2 493.5,254.8 503.5,262.2 518.5,265.5 536,264.8 556,262.2 568.5,261 568.5,276"/>
<polygon fill="#003c30" points="461,276 461,261 466,252.2 474.8,249.8 483.5,253.5 489.8,261 498.5,266.5 513.5,269.8 531,269 551,266.5 568.5,265.5 568.5,276"/>
<rect x="320.2" y="165.6" width="247.1" height="109.8" fill="url(#std)" mask="url(#mkd)"/>
<polyline class="brd" points="343.3,212.8 340,211.2 337.8,205.7 333.4,205.1 331.2,202.4 329,200.7 328.8,198 331.7,194.1 334.5,191.7 337.8,190.9 341.6,189.2 344.1,187.6 348.2,186.5 352,184.8 355.3,183.2 358.6,184.8 361.4,183.7 365,185.4 368.5,186.5 371.8,189.2 375.4,188.1 379,189.8 383.3,189.2 387.7,187.6 391,188.1 395.4,189.2 399.8,189.2 404.2,188.1 408.6,187.6 410.3,184.8 406.7,181.2 409.2,178.8 411.9,176 410.3,173.3 413,170.8 417.9,170 424.5,169.4 431.1,168.9 435.5,167.2 447.6,165.6 452,163.4"/>
<polyline class="brd" points="462.4,164 463,170 468.5,170 474,171.1 477.2,173.3 482.2,172.7 487.7,171.1 493.2,169.4 495.9,171.6 501.4,175.5 506.9,182.1 512.9,188.7 515.7,186.5 519.5,188.7 526.1,188.7 531.1,187.6 535.5,191.4 540.9,195.2 547,195.8 552.5,197.4"/>
<polyline class="brd" points="552.5,197.4 555.2,197.4 559.1,195.8 564.6,193.6 570,191.4"/>
<polyline class="brd" points="555.2,197.7 556.3,200.7 561.8,204 567.3,205.1 570.6,208.4"/>
<polyline class="brd" points="552.5,197.4 549.7,199.6 544.2,201.8 542.6,209 538.7,209.5 528.9,208.4 526.7,217.8 525,219.4 522.3,218.9 512.4,221 514.6,223.2 514.6,230.9 516.8,230.4 513.5,235.9"/>
<polyline class="brd" points="513.5,235.9 506.9,238.6 503.6,240.3 495.9,242.5 490.4,245.8 483.8,245.2 478.3,249 477.5,251 478.9,256.2 484.4,256.7 484.4,263"/>
<polyline class="brd" points="484.4,263 489.3,266.1 494.8,271.6 500.3,272.7 503.1,276.5"/>
<polyline class="brd" points="500.3,272.7 506.9,269.9 514,272.7 513.5,276.5"/>
<polyline class="brd" points="361.1,238.3 369.6,235.3 377.3,240.8 380.6,240.8 380.6,220.5 394.9,217.2"/>
<polyline class="brd" points="408.6,224.3 413.5,228.7 424.5,228.2 429.5,227.6 436.1,231.5 435.5,234.8 438.3,237 438.3,241.4 445.9,241.9 447,243.6 449.8,244.7 452,240.3 460.2,236.4 462.7,235.6"/>
<polyline class="brd" points="380.6,240.8 386.1,240.8 386.6,237.5 391.6,234.2 394.3,233.1 397.1,234.2 402.6,235.9 403.1,240.3 408.1,241.4 413,241.9 415.7,247.9 421.8,251.2 425.6,253.7 433.3,257.3 438.3,258.9 438.5,262.5"/>
<polyline class="brd" points="369.1,262.5 374,261.9 377.9,258.9 382.2,258.4 387.2,257.6 393.8,261.1 398.7,261.7 404.2,266.3 408.9,266.3 409.2,272.1 408.6,276.5"/>
<polyline class="brd" points="409.2,272.1 415.2,273.8 419.6,270.7 427.3,268.3 428.9,263.9 433.3,262.8 438.5,262.5 445.4,263.3 446.5,264.4 453.6,263.9 458.6,261.1 459.1,258.9 464.6,257.3 465.2,259.5 466.3,266.1 472.3,264.4 478.3,262.2 484.4,263"/>
<polyline class="brd" points="482.7,264.4 474,265.5 466.3,267.7 464.1,269.9 466.3,274.3 465.2,276.5"/>
<polyline class="brd" points="478.9,276.5 481.1,274.9 489.3,273.8 494.8,271.6"/>
<polyline class="brd" points="445.4,263.3 448.1,258.9 447,254 443.2,252.3 444.8,250.1 449.2,250.4 450.1,246.9 453.6,246.9 453.6,243.6 457.5,243.6 461,242.7 460.2,246.3"/>
<polyline class="brd" points="460.2,246.3 454.7,247.4 453.6,249 453.6,250.7 460.2,250.1 467.4,251.8 477.5,251"/>
<polyline class="brd" points="462.7,235.6 464.6,235.9 458.6,239.7 465.2,241.9 467.9,240.8 469.6,242.5 474.5,243.6 470.7,245.8 466.8,247.1 463,246.9 460.2,246.3"/>
<polyline class="brd" points="462.7,235.6 467.4,232.6 476.7,234.8 476.7,231.5 481.1,230.4 489.3,232 495.9,231.8 508,232.6 513.5,235.9"/>
<polyline class="brd" points="317.5,233.1 324,234.2 327.9,237.5 332.8,240.8 336.1,241.4 340,237.8"/>
<polyline class="brd" points="327.9,237.5 326.8,239.2 329.5,240.8 325.7,241.4 321.8,240 319.1,241.1"/>
<polyline class="brd" points="319.1,241.4 322.9,244.1 325.1,246.9 323.5,248.5 328.4,250.7 328.4,254 331.2,252.3 335.6,249.6 338.3,251.2 336.7,253.4 340,256.7 341.6,256.5"/>
<polyline class="brd" points="328.4,254 325.7,254 322.4,253.4 319.1,249.6"/>
<polyline class="brd" points="319.1,263.3 320.2,267.7 322.4,269.9 326.2,271 325.1,273.8 323.5,276.5"/>
<polyline class="lake" points="365.8,215 362.5,216.9 359.7,218.6 356.7,218.9 354.2,219.1 352.6,221 348.8,222.9 350.8,223.8 353.1,224.3 354.8,226.8 355.9,229.3 357.5,230.9 360.8,234.8 362.8,237.8 363.6,241.9 364.7,244.7 363,246.3 365.8,249.6 367.7,254.5 369.1,257.3 368.5,260.6 369.3,263.3 367.7,265.5 360.8,266.6 356.4,266.3 352.6,264.6 349.3,262.5 346.8,261.7 343.8,257.6 342.7,254.5 343.8,251.8 344.6,250.1 345.8,247.7 349.9,245.8 346,244.7 344.4,242.5 342.7,240.8 340,235.9 336.7,230.9 335,226 332.8,221.9 331.7,219.4 333.9,216.9 338.3,214.5 342.2,213.1 344.9,211.2 349.9,209.5 354.8,209 358.6,209.2 362.5,211.2 365.2,212.8 365.8,215"/>
<polyline class="lake" points="365.2,247.4 367.1,245.5 368.2,248.5"/>
<polyline class="lake" points="363.9,240.8 365.8,237.2 369.6,236.4 372.4,237.5 373.5,240.8 371.8,243 368,243.8 364.1,243 363.9,240.8"/>
<polyline class="lake" points="393.8,217.2 396.3,214.7 399.8,213.5 403.7,211.5 406.2,212.3 408.6,211 411.9,210.6 410.5,213.4 408.6,216.1 411.4,218 413,220.5 410,221.6 408.6,224.9 406.2,227.3 402.6,228.2 398.7,227.3 396.3,226 394.3,223.5 393,220.5 393.8,217.2"/>
<polyline class="lake" points="397.1,219.7 397.8,218.9 398.6,219.7 397.8,220.5 397.1,219.7"/>
<polyline class="lake" points="402,212.8 404.8,211.6 407.9,212.3"/>
<polyline class="lake" points="477.2,214.7 479.8,212.3 484.8,210.6 491,210.6 497.3,211.2 503.6,210.6 507.3,211 508,212.5 504.7,213 498.7,212.5 492.1,212.3 486,212.8 482.2,214.7 479.8,218 477.8,218.5 477.2,214.7"/>
</g>
<rect class="fr" x="320.2" y="165.6" width="247.1" height="109.8"/>
<path class="tk" d="M320.2 275.4h-3.2M320.2 269.9h-1.6M320.2 264.4h-1.6M320.2 258.9h-1.6M320.2 253.4h-1.6M320.2 247.9h-3.2M320.2 242.5h-1.6M320.2 237h-1.6M320.2 231.5h-1.6M320.2 226h-1.6M320.2 220.5h-3.2M320.2 215h-1.6M320.2 209.5h-1.6M320.2 204h-1.6M320.2 198.5h-1.6M320.2 193h-3.2M320.2 187.6h-1.6M320.2 182.1h-1.6M320.2 176.6h-1.6M320.2 171.1h-1.6M320.2 165.6h-3.2M320.2 275.4v1.6M347.7 275.4v3.2M375.1 275.4v1.6M402.6 275.4v3.2M430 275.4v1.6M457.5 275.4v3.2M484.9 275.4v1.6M512.4 275.4v3.2M539.8 275.4v1.6M567.3 275.4v3.2"/>
<text class="lab" text-anchor="end" x="311.6" y="278.3">35N</text>
<text class="lab" text-anchor="end" x="311.6" y="250.8">40N</text>
<text class="lab" text-anchor="end" x="311.6" y="223.4">45N</text>
<text class="lab" text-anchor="end" x="311.6" y="195.9">50N</text>
<text class="lab" text-anchor="end" x="311.6" y="168.5">55N</text>
<text class="lab" text-anchor="middle" x="347.7" y="290.5">50E</text>
<text class="lab" text-anchor="middle" x="402.6" y="290.5">60E</text>
<text class="lab" text-anchor="middle" x="457.5" y="290.5">70E</text>
<text class="lab" text-anchor="middle" x="512.4" y="290.5">80E</text>
<text class="lab" text-anchor="middle" x="567.3" y="290.5">90E</text>
<text class="ttl" text-anchor="end" x="568.7" y="158.3">SSP585, 3.47%/K (2.23, 4.76)</text>
<text class="pl" x="290.4" y="159.3">d</text>
<rect x="43.8" y="303.4" width="48.7" height="13.4" fill="#543005" stroke="#222" stroke-width="0.6"/>
<rect x="92.5" y="303.4" width="48.7" height="13.4" fill="#8c510a" stroke="#222" stroke-width="0.6"/>
<rect x="141.3" y="303.4" width="48.7" height="13.4" fill="#bf812d" stroke="#222" stroke-width="0.6"/>
<rect x="190" y="303.4" width="48.7" height="13.4" fill="#dfc27d" stroke="#222" stroke-width="0.6"/>
<rect x="238.8" y="303.4" width="48.7" height="13.4" fill="#f6e8c3" stroke="#222" stroke-width="0.6"/>
<rect x="287.5" y="303.4" width="48.7" height="13.4" fill="#c7eae5" stroke="#222" stroke-width="0.6"/>
<rect x="336.3" y="303.4" width="48.7" height="13.4" fill="#80cdc1" stroke="#222" stroke-width="0.6"/>
<rect x="385" y="303.4" width="48.7" height="13.4" fill="#35978f" stroke="#222" stroke-width="0.6"/>
<rect x="433.8" y="303.4" width="48.7" height="13.4" fill="#01665e" stroke="#222" stroke-width="0.6"/>
<rect x="482.5" y="303.4" width="48.7" height="13.4" fill="#003c30" stroke="#222" stroke-width="0.6"/>
<text class="cbl" text-anchor="middle" x="92.5" y="327.4">-4</text>
<text class="cbl" text-anchor="middle" x="141.3" y="327.4">-3</text>
<text class="cbl" text-anchor="middle" x="190" y="327.4">-2</text>
<text class="cbl" text-anchor="middle" x="238.8" y="327.4">-1</text>
<text class="cbl" text-anchor="middle" x="287.5" y="327.4">0</text>
<text class="cbl" text-anchor="middle" x="336.3" y="327.4">2</text>
<text class="cbl" text-anchor="middle" x="385" y="327.4">4</text>
<text class="cbl" text-anchor="middle" x="433.8" y="327.4">6</text>
<text class="cbl" text-anchor="middle" x="482.5" y="327.4">8</text>
</svg></body></html>
